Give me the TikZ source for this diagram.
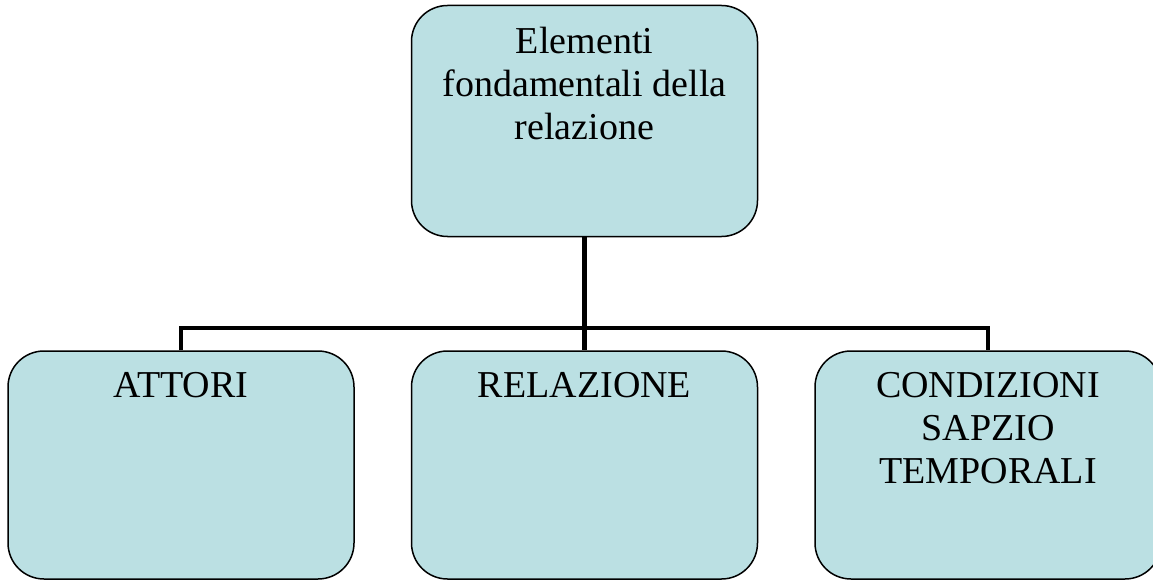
\documentclass[tikz,border=0pt]{standalone}
\usepackage{fontspec}
\setmainfont{Liberation Serif}
\definecolor{boxfill}{HTML}{BBE0E3}
\tikzset{
  box/.style={draw=black, line width=1.5pt, fill=boxfill, rounded corners=36pt, minimum width=346pt, inner sep=0pt},
  boxtext/.style={anchor=north, align=center, inner sep=0pt, font=\fontsize{38}{43}\selectfont},
  conn/.style={draw=black, line width=4.5pt}
}
\begin{document}
\begin{tikzpicture}[x=1pt,y=-1pt]
\useasboundingbox (0,0) rectangle (1153,580);
\clip (0,0) rectangle (1153,580);
\node[box, minimum height=231pt] (top) at (584.5,121) {};
\node[box, minimum height=228pt] (b1) at (181,465) {};
\node[box, minimum height=228pt] (b2) at (584.5,465) {};
\node[box, minimum height=228pt] (b3) at (988,465) {};
\coordinate (bar) at (584.5,328);
\draw[conn] (top.south) -- (bar);
\draw[conn] (b1.north) |- (bar) -| (b3.north);
\draw[conn] (bar) -- (b2.north);
\node[boxtext] (t0) at ([yshift=-22pt]top.north) {Elementi\\fondamentali della\\relazione};
\node[boxtext] (t1) at ([yshift=-22pt]b1.north) {ATTORI};
\node[boxtext] (t2) at ([yshift=-22pt]b2.north) {RELAZIONE};
\node[boxtext] (t3) at ([yshift=-22pt]b3.north) {CONDIZIONI\\SAPZIO\\TEMPORALI};
\end{tikzpicture}
\end{document}
